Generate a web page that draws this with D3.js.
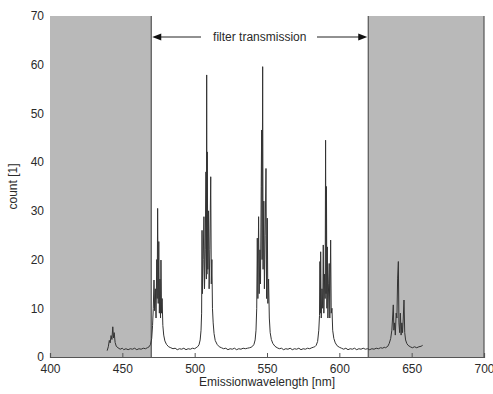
<!DOCTYPE html>
<html>
<head>
<meta charset="utf-8">
<title>Emission spectrum</title>
<style>
body {
    margin: 0px;
    overflow: hidden;
    background: #fff;
}
text {
    font-family: "Liberation Sans", Arial, sans-serif;
    font-size: 12px;
    fill: #2a2a2a;
}
</style>
<script src="https://cdnjs.cloudflare.com/ajax/libs/d3/7.8.5/d3.min.js"></script>
<script>

// wavelength [nm], count
var spectrum = [
    [439.5,1.3],[440.3,2.1],[441.0,3.4],[441.6,2.9],[442.2,4.4],[442.8,3.6],[443.4,6.2],[443.9,3.9],[444.4,5.0],[445.0,3.0],[445.8,2.2],
    [447,1.9],[448.5,1.6],[450,1.8],[451,1.5],[452.5,1.7],[454,1.5],[455.5,1.7],[457,1.6],[458.5,1.8],[460,1.5],[461.5,1.7],
    [463,1.6],[464.5,1.8],[466,1.7],[467.3,1.9],[468.5,2.1],[469.5,2.6],
    [470.3,3.8],[470.9,6.5],[471.4,10],[471.9,15.8],[472.3,9.5],[472.8,14],[473.3,8],[473.8,20],[474.1,12],[474.4,30.5],
    [474.8,11],[475.2,23.7],[475.6,9],[476.0,16],[476.4,8],[476.7,19.9],[477.1,9],[477.5,12],[478.0,6.5],[478.6,4.5],
    [479.4,3.3],[480.5,2.6],[482,2.1],[483.5,1.9],[485,1.7],[486.5,1.8],[488,1.5],[489.5,1.7],[491,1.6],[492.5,1.8],
    [494,1.5],[495.5,1.7],[497,1.6],[498.5,1.8],[500,1.7],[501,1.9],[502,2.1],[503,2.5],
    [503.8,3.5],[504.4,5.5],[504.8,9],[505.1,26],[505.4,13],[505.9,20],[506.4,28.8],[506.8,14],[507.3,22],[507.8,38],
    [508.1,16],[508.3,57.9],[508.5,17],[508.7,42.1],[509.1,18],[509.6,30],[510.0,14],[510.5,22],[511.1,37],[511.5,15],
    [511.9,20],[512.3,10],[512.8,7],[513.4,4.8],[514.2,3.4],[515.5,2.6],[517,2.1],[518.5,1.9],[520,1.7],[521.5,1.8],
    [523,1.5],[524.5,1.7],[526,1.6],[527.5,1.8],[529,1.5],[530.5,1.7],[532,1.6],[533.5,1.8],[535,1.7],[536.5,1.8],
    [538,1.9],[539,2.0],[540,2.2],[541,2.6],
    [541.8,3.5],[542.4,5.5],[542.9,10],[543.3,24.4],[543.7,12],[544.2,28.8],[544.6,13],[545.1,22],[545.5,15],[546.0,35],
    [546.3,46.6],[546.6,20],[547.0,59.6],[547.3,18],[547.8,32],[548.2,14],[548.7,25],[549.3,38.7],[549.7,12],[550.2,28.5],
    [550.6,11],[551.1,16],[551.6,8],[552.2,5],[553,3.6],[554,2.8],[555.5,2.2],[557,1.9],[558.5,1.7],[560,1.8],
    [561.5,1.5],[563,1.7],[564.5,1.6],[566,1.8],[567.5,1.5],[569,1.7],[570.5,1.6],[572,1.8],[573.5,1.5],[575,1.7],
    [576.5,1.6],[578,1.8],[579.5,1.7],[581,1.9],[582,2.0],[583,2.1],[584,2.4],
    [585,3.2],[585.8,5.5],[586.3,8.5],[586.6,19.6],[586.9,9],[587.1,21.6],[587.5,8],[588.0,14],[588.5,10],[588.9,23],
    [589.3,9],[589.8,17],[590.2,12],[590.5,44.5],[590.8,13],[591.1,35],[591.4,10],[591.7,22.6],[592.1,8],[592.6,15],
    [593.0,19.2],[593.4,8],[594.0,24],[594.4,9],[594.9,10],[595.4,5.5],[596.2,3.8],[597.2,2.9],[598.5,2.3],[600,2.0],
    [601.5,1.8],[603,1.6],[604.5,1.8],[606,1.5],[607.5,1.7],[609,1.6],[610.5,1.8],[612,1.5],[613.5,1.7],[615,1.6],
    [616.5,1.8],[618,1.6],[619.5,1.7],[621,1.5],[622.5,1.7],[624,1.6],[625.5,1.8],[627,1.7],[628.5,1.9],[630,1.8],
    [631,2.0],[632,1.9],[633.5,2.2],[634.5,2.8],
    [635.5,3.8],[636.3,5.5],[636.8,8],[637.3,10.7],[637.7,5.5],[638.2,7],[638.7,4.5],[639.3,9],[639.8,8],[640.3,16.2],
    [640.8,19.6],[641.2,7],[641.7,5],[642.2,9],[642.7,4.5],[643.2,7],[643.7,5],[644.2,8],[644.7,11.7],[645.2,5],
    [645.8,3.5],[646.6,2.8],[647.5,2.4],[649,2.1],[650.5,1.9],[652,2.1],[653.5,1.9],[655,2.1],[656.5,2.2],[657.6,2.4]
];

var xTicks = [400, 450, 500, 550, 600, 650, 700];
var yTicks = [0, 10, 20, 30, 40, 50, 60, 70];
var blocked = [[400, 470], [620, 700]];
var xDomain = [400, 700];
var yDomain = [0, 70];

window.addEventListener("load", function(){

    var width = 493,
        height = 394,
        margin = {top: 16, right: 9, bottom: 37, left: 50};

    var svg = d3.select("body").append("svg")
            .attr("width", width)
            .attr("height", height);

    var x = d3.scaleLinear().domain(xDomain).range([margin.left, width - margin.right]);
    var y = d3.scaleLinear().domain(yDomain).range([height - margin.bottom, margin.top]);

    // grey areas outside the filter
    svg.selectAll("rect.block")
        .data(blocked)
        .enter().append("rect")
        .attr("class", "block")
        .attr("x", function(d){ return x(d[0]); })
        .attr("y", y(70))
        .attr("width", function(d){ return x(d[1]) - x(d[0]); })
        .attr("height", y(0) - y(70))
        .attr("fill", "#b9b9b9");

    // edges of the grey areas
    svg.selectAll("line.edge")
        .data([470, 620, 700])
        .enter().append("line")
        .attr("class", "edge")
        .attr("x1", function(d){ return x(d); })
        .attr("x2", function(d){ return x(d); })
        .attr("y1", y(70))
        .attr("y2", y(0))
        .attr("stroke", "#555")
        .attr("stroke-width", 1.2);

    var xAxis = d3.axisBottom(x).tickValues(xTicks).tickSize(-4).tickPadding(7);
    var gx = svg.append("g")
        .attr("transform", "translate(0," + y(0) + ")")
        .call(xAxis);
    gx.select(".domain").attr("stroke", "#555").attr("stroke-width", 1.2);
    gx.selectAll(".tick line").attr("stroke", "#555");
    gx.selectAll("text").attr("fill", "#2a2a2a").style("font-size", "12px")
        .style("font-family", "\"Liberation Sans\", Arial, sans-serif");

    var yAxis = d3.axisLeft(y).tickValues(yTicks).tickSize(0).tickPadding(6);
    var gy = svg.append("g")
        .attr("transform", "translate(" + x(400) + ",0)")
        .call(yAxis);
    gy.select(".domain").remove();
    gy.selectAll("text").attr("fill", "#2a2a2a").style("font-size", "12px")
        .style("font-family", "\"Liberation Sans\", Arial, sans-serif");

    // spectrum
    var line = d3.line()
        .x(function(d){ return x(d[0]); })
        .y(function(d){ return y(d[1]); });

    svg.append("path")
        .datum(spectrum)
        .attr("d", line)
        .attr("fill", "none")
        .attr("stroke", "#333")
        .attr("stroke-width", 1)
        .attr("stroke-linejoin", "round");

    // filter transmission annotation
    var ay = 37;
    svg.append("text")
        .attr("x", x(545))
        .attr("y", ay + 4)
        .attr("text-anchor", "middle")
        .text("filter transmission");

    svg.append("line")
        .attr("x1", 201).attr("x2", x(470) + 6)
        .attr("y1", ay).attr("y2", ay)
        .attr("stroke", "#222");
    svg.append("line")
        .attr("x1", 317).attr("x2", x(620) - 6)
        .attr("y1", ay).attr("y2", ay)
        .attr("stroke", "#222");
    svg.append("path")
        .attr("d", "M" + (x(470) + 1) + "," + ay + "l9,-3.5l0,7z")
        .attr("fill", "#111");
    svg.append("path")
        .attr("d", "M" + (x(620) - 1) + "," + ay + "l-9,-3.5l0,7z")
        .attr("fill", "#111");

    svg.append("text")
        .attr("x", x(550))
        .attr("y", 386)
        .attr("text-anchor", "middle")
        .text("Emissionwavelength [nm]");

    svg.append("text")
        .attr("transform", "translate(17," + y(35) + ") rotate(-90)")
        .attr("text-anchor", "middle")
        .text("count [1]");

},false);

</script>
</head>
<body>
</body>
</html>
